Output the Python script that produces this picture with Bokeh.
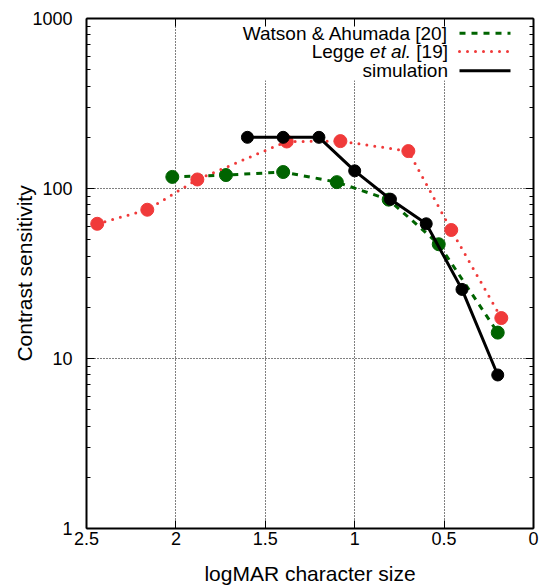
from bokeh.plotting import figure
from bokeh.models import (Range1d, FixedTicker, LogAxis, LinearAxis, Label,
                          BoxAnnotation, CustomJSTickFormatter)
from bokeh.embed import file_html
from bokeh.resources import INLINE

# ---------------- data ----------------
watson_x = [2.02, 1.72, 1.40, 1.10, 0.81, 0.53, 0.20]
watson_y = [117, 120, 125, 109, 86, 47, 14.2]

legge_x = [2.44, 2.16, 1.88, 1.38, 1.08, 0.70, 0.46, 0.18]
legge_y = [62, 75, 113, 189, 190, 166, 57, 17.3]

sim_x = [1.6, 1.4, 1.2, 1.0, 0.8, 0.6, 0.4, 0.2]
sim_y = [200, 200, 200, 127, 86.5, 62, 25.5, 8.0]

x_ticks = [0, 0.5, 1, 1.5, 2, 2.5]
y_ticks = [1, 10, 100, 1000]
y_minor = [m * d for d in (1, 10, 100) for m in range(2, 10)]

GREEN = "#006400"
RED = "#f03a3a"
FONT = "Liberation Sans"

# ---------------- layout ----------------
W, H = 551, 588
BL, BR, BT, BB = 86, 18, 18, 60
FW, FH = W - BL - BR, H - BT - BB

def px_to_x(px):
    return 2.5 - (px - BL) / FW * 2.5

def py_to_y(py):
    return 10 ** (3 - (py - BT) / FH * 3)

p = figure(width=W, height=H, y_axis_type="log",
           x_range=Range1d(2.5, 0), y_range=Range1d(1, 1000),
           output_backend="svg", toolbar_location=None,
           min_border_left=BL, min_border_right=BR,
           min_border_top=BT, min_border_bottom=BB)
p.outline_line_color = None
p.background_fill_color = "white"
p.border_fill_color = "white"

# grid
p.xgrid.ticker = FixedTicker(ticks=[0.5, 1, 1.5, 2])
p.ygrid.ticker = FixedTicker(ticks=[10, 100])
for g in (p.xgrid, p.ygrid):
    g.grid_line_color = "black"
    g.grid_line_dash = "1 2"
    g.grid_line_width = 1
    g.level = "image"

# white key area that hides grid lines
key_box = BoxAnnotation(left=1.93, bottom=py_to_y(80), fill_color="white",
                        fill_alpha=1.0, line_color=None, level="underlay")
p.add_layout(key_box)

def style_axis(ax, labels=True):
    ax.axis_line_color = "black"
    ax.axis_line_width = 2
    ax.major_tick_line_color = "black"
    ax.minor_tick_line_color = "black"
    ax.major_tick_in = 8
    ax.major_tick_out = 0
    ax.minor_tick_in = 4
    ax.minor_tick_out = 0
    ax.major_tick_line_width = 1
    ax.minor_tick_line_width = 1
    ax.major_label_text_font = FONT
    ax.major_label_text_font_size = "18px"
    ax.major_label_text_color = "black"
    ax.axis_label_text_font = FONT
    ax.axis_label_text_font_size = "21px"
    ax.axis_label_text_font_style = "normal"
    ax.axis_label_text_color = "black"
    if not labels:
        ax.formatter = CustomJSTickFormatter(code="return ''")
        ax.major_label_standoff = 0

xt = FixedTicker(ticks=x_ticks)
yt = FixedTicker(ticks=y_ticks, minor_ticks=y_minor)

xa = p.xaxis[0]
xa.ticker = xt
xa.major_label_overrides = {0: "0", 0.5: "0.5", 1: "1", 1.5: "1.5", 2: "2", 2.5: "2.5"}
xa.axis_label = "logMAR character size"
style_axis(xa)
xa.major_label_standoff = 3
xa.axis_label_standoff = 14

ya = p.yaxis[0]
ya.ticker = yt
ya.axis_label = "Contrast sensitivity"
style_axis(ya)
ya.major_label_standoff = 14
ya.axis_label_standoff = -7
ya.major_label_overrides = {1: "1", 10: "10", 100: "100", 1000: "1000"}

top_ax = LinearAxis(ticker=FixedTicker(ticks=x_ticks))
style_axis(top_ax, labels=False)
p.add_layout(top_ax, "above")

right_ax = LogAxis(ticker=FixedTicker(ticks=y_ticks, minor_ticks=y_minor))
style_axis(right_ax, labels=False)
p.add_layout(right_ax, "right")

# ---------------- series ----------------
p.line(watson_x, watson_y, line_color=GREEN, line_width=3, line_dash="6 6")
p.scatter(watson_x, watson_y, size=13, fill_color=GREEN, line_color=GREEN)

p.line(legge_x, legge_y, line_color=RED, line_width=3, line_dash="0 8", line_cap="round")
p.scatter(legge_x, legge_y, size=13, fill_color=RED, line_color=RED)

p.line(sim_x, sim_y, line_color="black", line_width=3)
p.scatter(sim_x, sim_y, size=12, fill_color="black", line_color="black")

# ---------------- key ----------------
TEXT_R = 447.5
L0, L1 = 459, 510
rows = [32.7, 51.0, 70.3]
fs = 19

def key_text(txt, px, py, style="normal"):
    p.add_layout(Label(x=px_to_x(px), y=py_to_y(py), text=txt, text_align="right",
                       text_baseline="middle", text_font=FONT,
                       text_font_size=f"{fs}px", text_font_style=style,
                       text_color="black"))

key_text("Watson & Ahumada [20]", TEXT_R, rows[0])
w19 = 1.668 * fs
wsp = 0.278 * fs
wetal = 2.168 * fs
key_text("[19]", TEXT_R, rows[1])
key_text("et al.", TEXT_R - w19 - wsp, rows[1], "italic")
key_text("Legge", TEXT_R - w19 - wsp - wetal - wsp, rows[1])
key_text("simulation", TEXT_R, rows[2])

kx = [px_to_x(L0), px_to_x(L1)]
p.line(kx, [py_to_y(rows[0])] * 2, line_color=GREEN, line_width=3, line_dash="6 6")
p.line(kx, [py_to_y(rows[1])] * 2, line_color=RED, line_width=3, line_dash="0 8", line_cap="round")
p.line(kx, [py_to_y(rows[2])] * 2, line_color="black", line_width=3)

open("out.html", "w").write(file_html(p, INLINE))
